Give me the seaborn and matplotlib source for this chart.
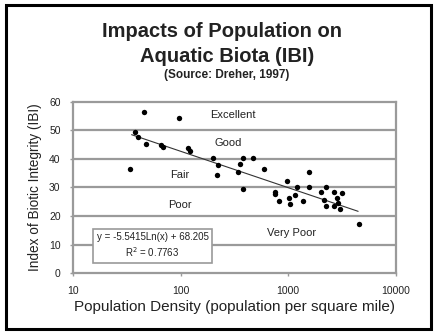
import matplotlib
matplotlib.use("Agg")
import matplotlib.pyplot as plt
import seaborn as sns
import numpy as np
from matplotlib.patches import Rectangle

# population density (per sq mile) and IBI score
pop_density = [33.5, 45.9, 37.8, 40.5, 47.6, 66, 68, 96.5, 118, 122,
               201, 223, 216, 343, 358, 380, 378, 470, 595, 970,
               1570, 751, 760, 820, 1020, 1035, 1151, 1194, 1377, 1560,
               2010, 2250, 2170, 2234, 2640, 2650, 2845, 2910, 3055, 3190,
               4570]
ibi = [36.5, 56.4, 49.4, 47.6, 45.4, 44.9, 44.3, 54.3, 44.0, 42.9,
       40.2, 38.0, 34.3, 35.4, 38.1, 40.3, 29.5, 40.5, 36.5, 32.4,
       35.3, 28.5, 27.6, 25.4, 26.2, 24.2, 27.5, 30.1, 25.3, 30.1,
       28.3, 30.3, 25.5, 23.6, 28.4, 23.6, 26.4, 24.5, 22.4, 28.2,
       17.1]

# log trend line coefficients as printed on the chart
slope = -5.5415
intercept = 68.205
r2 = 0.7763
trend_range = [35, 4460]

# class bands (label, x, y)
band_labels = ["Excellent", "Good", "Fair", "Poor", "Very Poor"]
band_x = [306, 275, 98, 98, 1070]
band_y = [55.4, 45.5, 34.4, 23.9, 13.9]

yticks = [0, 10, 20, 30, 40, 50, 60]
xticks = [10, 100, 1000, 10000]

sns.set_theme(style="white")
plt.rcParams['font.family'] = ['Liberation Sans', 'DejaVu Sans']

fig = plt.figure(figsize=(4.35, 3.33), dpi=100)
ax = fig.add_axes([0.168, 0.180, 0.742, 0.514])

grid_col = '#9a9a9a'
txt_col = '#222222'
for v in yticks[1:-1]:
    ax.axhline(v, color=grid_col, lw=1.6, zorder=0)

sns.scatterplot(x=pop_density, y=ibi, ax=ax, color='black', s=15,
                edgecolor='black', linewidth=0, zorder=3)

tx = np.geomspace(trend_range[0], trend_range[1], 50)
sns.lineplot(x=tx, y=slope * np.log(tx) + intercept, ax=ax,
             color='#333333', lw=0.8, zorder=2)

ax.set_xscale('log')
ax.set_xlim(10, 10000)
ax.set_ylim(0, 60)
ax.set_xticks(xticks)
ax.set_xticklabels([str(t) for t in xticks])
ax.set_yticks(yticks)
ax.minorticks_off()
ax.tick_params(axis='both', labelsize=7.5, colors=txt_col, length=2,
               width=1, direction='out', bottom=True, left=True, pad=7)
ax.tick_params(axis='both', color=grid_col)
for sp in ax.spines.values():
    sp.set_color(grid_col)
    sp.set_linewidth(1.6)

for lab, bx, by in zip(band_labels, band_x, band_y):
    ax.text(bx, by, lab, fontsize=8, ha='center', va='center', color=txt_col)

eq = f"y = {slope:.4f}Ln(x) + {intercept:.3f}\nR$^2$ = {r2:.4f}"
ax.text(54.7, 9.6, eq, fontsize=7, ha='center', va='center', color=txt_col,
        linespacing=1.3,
        bbox=dict(boxstyle='square,pad=0.35', fc='white', ec=grid_col, lw=1.2),
        zorder=4)

ax.set_xlabel('Population Density (population per square mile)', fontsize=11,
              color=txt_col, labelpad=3)
ax.set_ylabel('Index of Biotic Integrity (IBI)', fontsize=9.8,
              color=txt_col, labelpad=5)

fig.text(0.510, 0.904, 'Impacts of Population on', fontsize=14.5,
         fontweight='bold', ha='center', va='center', color=txt_col)
fig.text(0.522, 0.829, 'Aquatic Biota (IBI)', fontsize=14.5,
         fontweight='bold', ha='center', va='center', color=txt_col)
fig.text(0.520, 0.775, '(Source: Dreher, 1997)', fontsize=8.5,
         fontweight='bold', ha='center', va='center', color=txt_col)

fig.patches.append(Rectangle((0.013, 0.012), 0.978, 0.972, transform=fig.transFigure,
                             fill=False, ec='black', lw=2.2))

fig.savefig('out.png', dpi=100)
